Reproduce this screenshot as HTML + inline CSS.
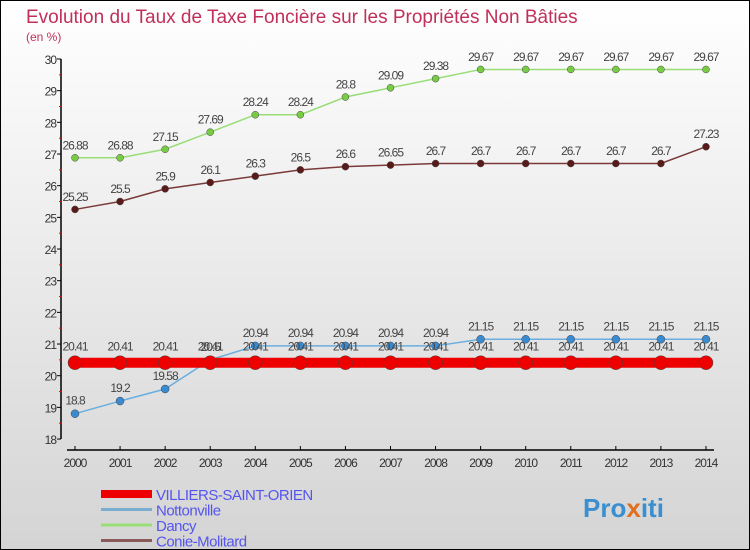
<!DOCTYPE html>
<html><head><meta charset="utf-8"><style>
html,body{margin:0;padding:0}
body{width:750px;height:550px;overflow:hidden;font-family:"Liberation Sans",sans-serif}
#wrap{position:relative;width:748px;height:548px;border:1px solid #000;background:linear-gradient(#ffffff,#d4d4d4)}
svg{position:absolute;left:0;top:0}
</style></head><body>
<div id="wrap">
<svg id="chart" width="748" height="548">
<text x="25" y="22" font-size="19" fill="#c0305a">Evolution du Taux de Taxe Foncière sur les Propriétés Non Bâties</text>
<text x="25" y="40" font-size="12" fill="#c0305a">(en %)</text>
<g id="axes"></g><g id="series"></g><g id="legend"></g>
<text x="582" y="516" font-size="26" font-weight="bold" fill="#3a8fd0">Pro<tspan fill="#e07020">x</tspan>iti</text>
</svg>
</div>
<script>
const years=[2000,2001,2002,2003,2004,2005,2006,2007,2008,2009,2010,2011,2012,2013,2014];
const villiers=[20.41,20.41,20.41,20.41,20.41,20.41,20.41,20.41,20.41,20.41,20.41,20.41,20.41,20.41,20.41];
const nottonville=[18.8,19.2,19.58,20.5,20.94,20.94,20.94,20.94,20.94,21.15,21.15,21.15,21.15,21.15,21.15];
const dancy=[26.88,26.88,27.15,27.69,28.24,28.24,28.8,29.09,29.38,29.67,29.67,29.67,29.67,29.67,29.67];
const conie=[25.25,25.5,25.9,26.1,26.3,26.5,26.6,26.65,26.7,26.7,26.7,26.7,26.7,26.7,27.23];
const yTicks=[18,19,20,21,22,23,24,25,26,27,28,29,30];
const NS="http://www.w3.org/2000/svg";
const xS=i=>74+i*45.07;
const yS=v=>59-1+(30-v)*31.67;
function mk(t,a,p){const e=document.createElementNS(NS,t);for(const k in a)e.setAttribute(k,a[k]);p.appendChild(e);return e;}
const ax=document.getElementById('axes');
let l=mk('line',{x1:60,y1:yS(30),x2:60,y2:yS(18),stroke:'#000','stroke-width':1.5},ax);


l=mk('line',{x1:xS(0)-8,y1:449,x2:xS(14)+8,y2:449,stroke:'#000','stroke-width':1.5},ax);


yTicks.forEach(v=>{
 mk('line',{x1:56,y1:yS(v),x2:60,y2:yS(v),stroke:'#000'},ax);
 if(v<30)mk('line',{x1:58,y1:yS(v+0.5),x2:61,y2:yS(v+0.5),stroke:'#f00'},ax);
 const t=mk('text',{x:55,y:yS(v)+5,'font-size':12,fill:'#333','text-anchor':'end','letter-spacing':'-1'},ax);
 t.textContent=v;
 
 
});
years.forEach((y,i)=>{
 mk('line',{x1:xS(i),y1:445,x2:xS(i),y2:449,stroke:'#000'},ax);
 const t=mk('text',{x:xS(i),y:466,'font-size':12,fill:'#333','text-anchor':'middle','letter-spacing':'-1'},ax);
 t.textContent=y;
 
 
});
const sg=document.getElementById('series');
function draw(vals,color,dot,lw,r,name){
 const g=mk('g',{},sg);
 
 
 const p=mk('polyline',{points:vals.map((v,i)=>xS(i)+','+yS(v)).join(' '),fill:'none',stroke:color,'stroke-width':lw},g);
 
 
 vals.forEach((v,i)=>{
  const c=mk('circle',{cx:xS(i),cy:yS(v),r:r,fill:dot,stroke:'#444','stroke-width':0.5},g);
  
  
  const t=mk('text',{x:xS(i),y:yS(v)-(r+5),'font-size':12,fill:'#444','text-anchor':'middle','letter-spacing':'-1'},g);
  t.textContent=v;
  
  
 });
}
draw(dancy,'#99dd77','#77cc44',1.5,3.5,'dancy');
draw(conie,'#7a3a3a','#5a1a1a',1.5,3.5,'conie-molitard');
draw(nottonville,'#6aaee0','#3a8ad0',1.5,4,'nottonville');
draw(villiers,'#ee0000','#ee0000',10,7,'villiers');
const lg=document.getElementById('legend');
const items=[['VILLIERS-SAINT-ORIEN','#ee0000',8],['Nottonville','#7aaed0',3],['Dancy','#99dd77',3],['Conie-Molitard','#8a5a5a',3]];
items.forEach((it,i)=>{
 const y=493+i*15.5;
 const ln=mk('line',{x1:100,y1:y,x2:151,y2:y,stroke:it[1],'stroke-width':it[2]},lg);
 
 
 const t=mk('text',{x:155,y:y+6,'font-size':15,fill:'#5555ee','letter-spacing':'-0.5'},lg);
 t.textContent=it[0];
 
 
});
</script>
</body></html>
